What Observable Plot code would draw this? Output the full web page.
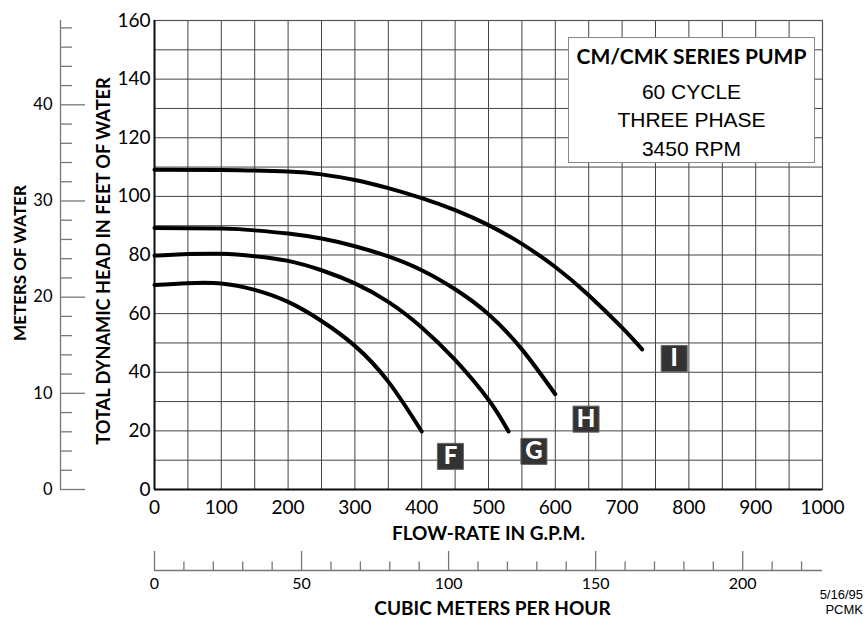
<!DOCTYPE html>
<html>
<head>
<meta charset="utf-8">
<script src="https://cdn.jsdelivr.net/npm/d3@7"></script>
<script src="https://cdn.jsdelivr.net/npm/@observablehq/plot@0.6"></script>
<style>
  body { margin: 0; background: #fff; }
  #chart { position: relative; width: 865px; height: 625px; overflow: hidden; background: #fff; font-family: Lato, sans-serif; }
  #chart > .layer { position: absolute; left: 0; top: 0; }
  #chart svg { background: transparent !important; }
  .legend { position: absolute; left: 568px; top: 37px; width: 247px; height: 126px; border: 1.3px solid #888; background: #fff; box-sizing: border-box; color: #000; }
  .legend div { position: absolute; left: 0; right: 0; text-align: center; line-height: 1; white-space: nowrap; transform: translateY(-50%); }
  .legend .t { font-family: Lato, sans-serif; font-weight: 700; font-size: 21px; top: 17px; }
  .legend .l { font-family: "Liberation Sans", Arial, sans-serif; font-size: 21px; }
  .stamp { position: absolute; right: 2px; font-family: "Liberation Sans", Arial, sans-serif; font-size: 13px; line-height: 12px; text-align: right; color: #000; white-space: nowrap; }
</style>
</head>
<body>
<div id="chart"></div>
<script>
// ---------- data ----------
const pumps = ["F", "G", "H", "I"];

const flowF = [0, 50, 100, 150, 200, 250, 300, 350, 400];
const headF = [69.8, 70.4, 70.3, 68.1, 64.0, 57.5, 49.0, 36.8, 19.8];

const flowG = [0, 50, 100, 150, 200, 250, 300, 350, 400, 450, 500, 530];
const headG = [79.8, 80.3, 80.4, 79.6, 78.0, 74.8, 70.3, 64.0, 55.3, 44.2, 30.6, 19.8];

const flowH = [0, 100, 150, 200, 250, 300, 350, 400, 450, 500, 550, 600];
const headH = [89.2, 89.0, 88.4, 87.3, 85.6, 83.0, 79.5, 74.8, 68.3, 59.8, 47.8, 32.5];

const flowI = [0, 100, 200, 250, 300, 350, 400, 450, 500, 550, 600, 650, 700, 730];
const headI = [109.1, 109.0, 108.5, 107.5, 105.6, 102.8, 99.4, 95.3, 90.2, 83.8, 75.9, 66.3, 55.2, 47.8];

// pump letter tags (position in GPM / feet)
const tagFlow = [443, 568, 646, 778];
const tagHead = [11.3, 13, 24, 44.7];

// axis ticks
const flowTicks = [0, 100, 200, 300, 400, 500, 600, 700, 800, 900, 1000];
const headTicks = [0, 20, 40, 60, 80, 100, 120, 140, 160];
const meterMajor = [0, 10, 20, 30, 40];
const meterMinor = [2, 4, 6, 8, 12, 14, 16, 18, 22, 24, 26, 28, 32, 34, 36, 38, 42, 44, 46, 48];
const m3Major = [0, 50, 100, 150, 200];
const m3Minor = [10, 20, 30, 40, 60, 70, 80, 90, 110, 120, 130, 140, 160, 170, 180, 190, 210, 220];

// unit conversions
const FT_PER_M = 3.28084;
const GPM_PER_M3H = 4.402868;

// texts
const xTitle = "FLOW-RATE IN G.P.M.";
const yTitle = "TOTAL DYNAMIC HEAD IN FEET OF WATER";
const meterTitle = "METERS OF WATER";
const m3Title = "CUBIC METERS PER HOUR";
const legendTitle = "CM/CMK SERIES PUMP";
const legendLines = ["60 CYCLE", "THREE PHASE", "3450 RPM"];
const stampLines = ["5/16/95", "PCMK"];

// ---------- build tables ----------
const series = [[flowF, headF], [flowG, headG], [flowH, headH], [flowI, headI]];
const curves = series.flatMap(([fx, hy], i) => fx.map((f, j) => ({pump: pumps[i], flow: f, head: hy[j]})));
const tags = pumps.map((p, i) => ({pump: p, flow: tagFlow[i], head: tagHead[i]}));

const W = 865, H = 625;
const baseStyle = {background: "transparent", fontFamily: "Lato, sans-serif", overflow: "visible", color: "#000"};
const plain = d => String(d);

const main = Plot.plot({
  width: W, height: H,
  marginLeft: 154, marginRight: 43, marginTop: 20, marginBottom: 136,
  style: baseStyle,
  x: {domain: [0, 1000]},
  y: {domain: [0, 160]},
  marks: [
    Plot.gridX({interval: 50, stroke: "#444", strokeOpacity: 1, strokeWidth: 1}),
    Plot.gridY({interval: 10, stroke: "#444", strokeOpacity: 1, strokeWidth: 1}),
    Plot.frame({stroke: "#555", strokeWidth: 1.2}),
    Plot.ruleX([0], {stroke: "#111", strokeWidth: 2}),
    Plot.ruleY([0], {stroke: "#111", strokeWidth: 2}),
    Plot.line(curves, {x: "flow", y: "head", z: "pump", curve: "natural", stroke: "#000", strokeWidth: 4, strokeLinecap: "round", strokeLinejoin: "round"}),
    Plot.axisX({ticks: flowTicks, tickFormat: plain, tickSize: 0, tickPadding: 11, fontSize: 19, label: null}),
    Plot.axisY({ticks: headTicks, tickFormat: plain, tickSize: 0, tickPadding: 4, fontSize: 19, label: null}),
    Plot.text([xTitle], {frameAnchor: "bottom", dy: 44, lineAnchor: "middle", textAnchor: "middle", fontSize: 19, fontWeight: "bold"}),
    Plot.text([yTitle], {frameAnchor: "left", dx: -50.5, dy: 6, rotate: -90, lineAnchor: "middle", textAnchor: "middle", fontSize: 18.2, fontWeight: "bold"}),
    Plot.dot(tags, {x: "flow", y: "head", symbol: "square", r: 14.7, fill: "#333", stroke: "#666", strokeWidth: 1}),
    Plot.text(tags, {x: "flow", y: "head", text: "pump", fill: "white", fontSize: 24, fontWeight: 900})
  ]
});

const meterMax = 160 / FT_PER_M;
const meters = Plot.plot({
  width: W, height: H,
  marginLeft: 60, marginRight: W - 85, marginTop: 20, marginBottom: 136,
  style: baseStyle,
  x: {domain: [0, 1], axis: null},
  y: {domain: [0, meterMax]},
  marks: [
    Plot.ruleX([0], {y1: 0, y2: meterMax, stroke: "#777", strokeWidth: 1.3}),
    Plot.ruleY(meterMajor, {x1: 0, x2: 1, stroke: "#777", strokeWidth: 1.3}),
    Plot.ruleY(meterMinor, {x1: 0, x2: 0.48, stroke: "#777", strokeWidth: 1.3}),
    Plot.axisY({ticks: meterMajor, tickFormat: plain, tickSize: 0, tickPadding: 8, fontSize: 16.5, label: null}),
    Plot.text([meterTitle], {frameAnchor: "left", dx: -40, dy: 8, rotate: -90, lineAnchor: "middle", textAnchor: "middle", fontSize: 17, fontWeight: "bold"})
  ]
});

const m3Max = 1000 / GPM_PER_M3H;
const cubic = Plot.plot({
  width: W, height: H,
  marginLeft: 154, marginRight: 43, marginTop: 551, marginBottom: H - 570,
  style: baseStyle,
  x: {domain: [0, m3Max]},
  y: {domain: [0, 1], axis: null},
  marks: [
    Plot.ruleY([0], {stroke: "#777", strokeWidth: 1.3}),
    Plot.ruleX(m3Major, {y1: 0, y2: 1, stroke: "#777", strokeWidth: 1.3}),
    Plot.ruleX(m3Minor, {y1: 0, y2: 0.45, stroke: "#777", strokeWidth: 1.3}),
    Plot.axisX({ticks: m3Major, tickFormat: plain, tickSize: 0, tickPadding: 7.5, fontSize: 16, label: null}),
    Plot.text([m3Title], {frameAnchor: "bottom", dy: 38, dx: 4, lineAnchor: "middle", textAnchor: "middle", fontSize: 19, fontWeight: "bold"})
  ]
});

const chart = document.getElementById("chart");
for (const p of [main, meters, cubic]) {
  const layer = document.createElement("div");
  layer.className = "layer";
  layer.appendChild(p);
  chart.appendChild(layer);
}

// legend box
const legend = document.createElement("div");
legend.className = "legend";
const t = document.createElement("div");
t.className = "t";
t.textContent = legendTitle;
legend.appendChild(t);
const tops = [53, 80.5, 109.5];
legendLines.forEach((s, i) => {
  const d = document.createElement("div");
  d.className = "l";
  d.style.top = tops[i] + "px";
  d.textContent = s;
  legend.appendChild(d);
});
chart.appendChild(legend);

// date stamp (two separate lines)
const stampTops = [589, 604];
stampLines.forEach((s, i) => {
  const d = document.createElement("div");
  d.className = "stamp";
  d.style.top = stampTops[i] + "px";
  d.textContent = s;
  chart.appendChild(d);
});
</script>
</body>
</html>
